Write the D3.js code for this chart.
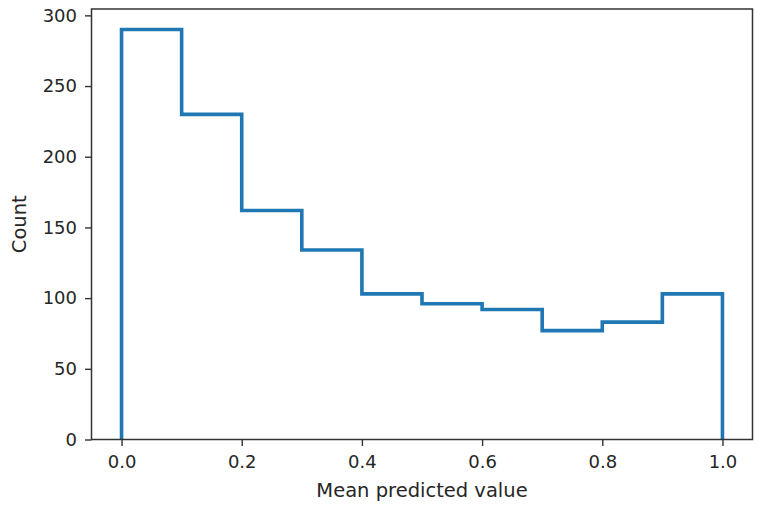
<!doctype html>
<html lang="en">
<head>
  <meta charset="utf-8">
  <title>Mean predicted value histogram</title>
  <style>
    body { margin: 0; background: #fff; }
    text { font-family: "DejaVu Sans", sans-serif; fill: #262626; }
  </style>
</head>
<body>
<div id="chart"></div>
<script src="https://cdn.jsdelivr.net/npm/d3@7"></script>
<script>
// bin edges and counts
var binEdges = [0.0, 0.1, 0.2, 0.3, 0.4, 0.5, 0.6, 0.7, 0.8, 0.9, 1.0];
var counts = [290, 230, 162, 134, 103, 96, 92, 77, 83, 103];
var xTicks = [0.0, 0.2, 0.4, 0.6, 0.8, 1.0];
var yTicks = [0, 50, 100, 150, 200, 250, 300];

var width = 758, height = 506;
var mLeft = 91.5, mRight = 752.5, mTop = 9, mBottom = 439.5;

var svg = d3.select("#chart").append("svg")
  .attr("width", width)
  .attr("height", height);

var x = d3.scaleLinear().domain([-0.05, 1.05]).range([mLeft, mRight]);
var y = d3.scaleLinear().domain([0, 290 * 1.05]).range([mBottom, mTop]);

// step outline like histtype="step"
var pts = [[binEdges[0], 0]];
for (let i = 0; i < counts.length; i++) {
  pts.push([binEdges[i], counts[i]]);
  pts.push([binEdges[i + 1], counts[i]]);
}
pts.push([binEdges[binEdges.length - 1], 0]);

var line = d3.line()
  .x(function(d) { return x(d[0]); })
  .y(function(d) { return y(d[1]); });

svg.append("path")
  .datum(pts)
  .attr("d", line)
  .attr("fill", "none")
  .attr("stroke", "#1f77b4")
  .attr("stroke-width", 3.6)
  .attr("stroke-linejoin", "miter");

// axes
var xAxis = d3.axisBottom(x).tickValues(xTicks).tickFormat(d3.format(".1f"))
  .tickSize(6.5).tickPadding(9);
var yAxis = d3.axisLeft(y).tickValues(yTicks).tickFormat(d3.format("d"))
  .tickSize(6.5).tickPadding(8);

var gx = svg.append("g").attr("transform", "translate(0," + mBottom + ")").call(xAxis);
var gy = svg.append("g").attr("transform", "translate(" + mLeft + ",0)").call(yAxis);

[gx, gy].forEach(function(g) {
  g.select(".domain").remove();
  g.selectAll("line").attr("stroke", "#333").attr("stroke-width", 1.4);
  g.selectAll("text").attr("font-size", 18).attr("fill", "#262626")
    .style("font-family", "'DejaVu Sans', sans-serif");
});

// frame
svg.append("rect")
  .attr("x", mLeft).attr("y", mTop)
  .attr("width", mRight - mLeft).attr("height", mBottom - mTop)
  .attr("fill", "none")
  .attr("stroke", "#333")
  .attr("stroke-width", 1.5);

svg.append("text")
  .attr("x", (mLeft + mRight) / 2)
  .attr("y", 497)
  .attr("text-anchor", "middle")
  .attr("font-size", 19.5)
  .text("Mean predicted value");

svg.append("text")
  .attr("transform", "translate(26," + ((mTop + mBottom) / 2) + ") rotate(-90)")
  .attr("text-anchor", "middle")
  .attr("font-size", 19.5)
  .text("Count");
</script>
</body>
</html>
